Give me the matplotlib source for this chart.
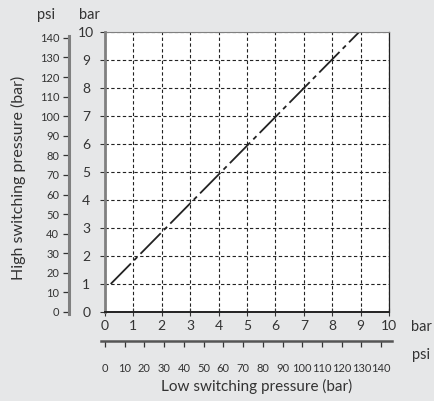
import numpy as np
import matplotlib
matplotlib.use("Agg")
from matplotlib import pyplot as plt

plt.rcParams['font.family'] = ['Lato', 'DejaVu Sans']

    #  Data (bar)

lowBar = [0.2, 8.95]
highBar = [1.0, 10.0]

barTicks = list(range(0, 11))
psiTicks = list(range(0, 150, 10))
psiPerBarX = 14.4
psiPerBarY = 14.3

bgColor = '#e6e7e8'
spineGray = '#808080'

fig = plt.figure(figsize=(4.35, 4.01), dpi=100)
fig.patch.set_facecolor(bgColor)

pos = [105 / 435, 89 / 401, 284 / 435, 280 / 401]

    #  Main axes in bar

ax = fig.add_axes(pos)
ax.set_facecolor('white')
ax.set_xlim(0, 10)
ax.set_ylim(0, 10)
ax.set_xticks(barTicks)
ax.set_yticks(barTicks)
ax.grid(True, color='#222222', linestyle=(0, (3, 2.2)), linewidth=0.8)
ax.set_axisbelow(True)

ax.spines['left'].set_color(spineGray)
ax.spines['left'].set_linewidth(2.0)
ax.spines['top'].set_color(spineGray)
ax.spines['top'].set_linewidth(0.8)
ax.spines['right'].set_color('#222222')
ax.spines['right'].set_linewidth(0.9)
ax.spines['bottom'].set_color('#222222')
ax.spines['bottom'].set_linewidth(1.4)

ax.tick_params(axis='x', direction='inout', length=6, width=0.8, color='#333333',
               labelsize=10, pad=3, labelcolor='#333333')
ax.tick_params(axis='y', direction='out', length=3.5, width=0.8, color='#333333',
               labelsize=10, pad=10, labelcolor='#333333')
for lbl in ax.get_yticklabels():
    lbl.set_horizontalalignment('center')

ax.plot(lowBar, highBar, color='#222222', linewidth=1.3,
        linestyle=(0, (16, 2.5, 2.5, 2.5)))

    #  Left psi axis

axPsiY = fig.add_axes(pos)
axPsiY.patch.set_visible(False)
axPsiY.set_ylim(0, 10 * psiPerBarY)
axPsiY.set_yticks(psiTicks)
axPsiY.xaxis.set_visible(False)
for side in ['top', 'right', 'bottom']:
    axPsiY.spines[side].set_visible(False)
axPsiY.spines['left'].set_position(('outward', 26))
axPsiY.spines['left'].set_bounds(-1, 141)
axPsiY.spines['left'].set_color(spineGray)
axPsiY.spines['left'].set_linewidth(2.2)
axPsiY.tick_params(axis='y', direction='out', length=4.5, width=0.9, color='#333333',
                   labelsize=8, pad=2.5, labelcolor='#333333')

    #  Bottom psi axis

axPsiX = fig.add_axes(pos)
axPsiX.patch.set_visible(False)
axPsiX.set_xlim(0, 10 * psiPerBarX)
axPsiX.set_xticks(psiTicks)
axPsiX.yaxis.set_visible(False)
for side in ['top', 'right', 'left']:
    axPsiX.spines[side].set_visible(False)
axPsiX.spines['bottom'].set_position(('outward', 21))
axPsiX.spines['bottom'].set_bounds(-2, 145.5)
axPsiX.spines['bottom'].set_color('#555555')
axPsiX.spines['bottom'].set_linewidth(1.8)
axPsiX.tick_params(axis='x', direction='out', length=4.5, width=0.9, color='#333333',
                   labelsize=8, pad=11, labelcolor='#333333')

    #  Unit and axis titles

fig.text(46 / 435, 1 - 15 / 401, 'psi', fontsize=10.5, ha='center', va='center', color='#333333')
fig.text(89 / 435, 1 - 15 / 401, 'bar', fontsize=10.5, ha='center', va='center', color='#333333')
fig.text(421 / 435, 1 - 327 / 401, 'bar', fontsize=10.5, ha='center', va='center', color='#333333')
fig.text(421 / 435, 1 - 355 / 401, 'psi', fontsize=10.5, ha='center', va='center', color='#333333')
fig.text(257 / 435, 1 - 386 / 401, 'Low switching pressure (bar)', fontsize=11,
         ha='center', va='center', color='#333333')
fig.text(18 / 435, 1 - 178 / 401, 'High switching pressure (bar)', fontsize=11.5,
         ha='center', va='center', rotation=90, color='#333333')

plt.savefig('out.png', dpi=100, facecolor=bgColor)
